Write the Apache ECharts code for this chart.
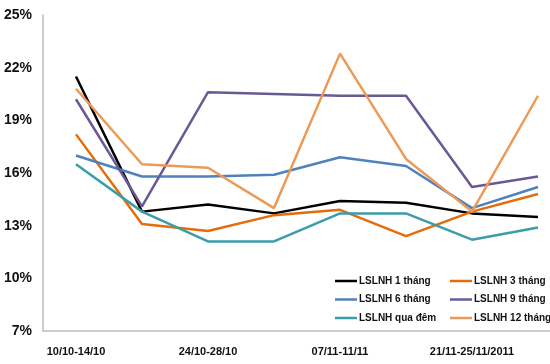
<!DOCTYPE html>
<html><head><meta charset="utf-8">
<script src="https://cdn.jsdelivr.net/npm/echarts@6/dist/echarts.min.js"></script>
<style>html,body{margin:0;padding:0;background:#fff}#c{width:550px;height:364px}</style>
</head><body><div id="c"></div>
<script>
var categories = ["10/10-14/10","17/10-21/10","24/10-28/10","31/10-04/11","07/11-11/11","14/11-18/11","21/11-25/11/2011","28/11-02/12/2011"];
var s1thang  = [21.5, 13.8, 14.2, 13.7, 14.4, 14.3, 13.7, 13.5];
var s3thang  = [18.2, 13.1, 12.7, 13.6, 13.9, 12.4, 13.8, 14.8];
var s6thang  = [17.0, 15.8, 15.8, 15.9, 16.9, 16.4, 14.0, 15.2];
var s9thang  = [20.2, 14.1, 20.6, 20.5, 20.4, 20.4, 15.2, 15.8];
var sQuaDem  = [16.5, 13.8, 12.1, 12.1, 13.7, 13.7, 12.2, 12.9];
var s12thang = [20.8, 16.5, 16.3, 14.0, 22.8, 16.8, 13.8, 20.4];
var yTicks = [7, 10, 13, 16, 19, 22, 25];

var names = ["LSLNH 1 tháng","LSLNH 3 tháng","LSLNH 6 tháng","LSLNH 9 tháng","LSLNH qua đêm","LSLNH 12 tháng"];
var datas = [s1thang, s3thang, s6thang, s9thang, sQuaDem, s12thang];
var colors = ["#000000","#E46C0A","#4F81BD","#6B5897","#3A9DAA","#EC9A55"];

var chart = echarts.init(document.getElementById('c'));
var font = '"Liberation Sans", Arial, sans-serif';
var legendText = {fontFamily: font, fontWeight: 'bold', fontSize: 10, color: '#111', padding: [0,0,0,-3]};
chart.setOption({
  animation: false,
  backgroundColor: '#fff',
  grid: {left: 43, width: 528, top: 15, bottom: 33, containLabel: false, outerBoundsMode: 'none'},
  xAxis: {
    type: 'category', data: categories, boundaryGap: true,
    axisLine: {lineStyle: {color: '#bdbdbd', width: 1.5}},
    axisTick: {show: false},
    axisLabel: {interval: 1, margin: 15, fontFamily: font, fontWeight: 'bold', fontSize: 11, color: '#111'}
  },
  yAxis: {
    type: 'value', min: yTicks[0], max: yTicks[yTicks.length-1], interval: 3,
    axisLine: {show: true, lineStyle: {color: '#bdbdbd', width: 1.5}},
    axisTick: {show: false},
    splitLine: {show: false},
    axisLabel: {margin: 11, formatter: '{value}%', fontFamily: font, fontWeight: 'bold', fontSize: 14, color: '#111'}
  },
  legend: [
    {data: [names[0], names[2], names[4]], orient: 'vertical', left: 330, top: 271, icon: 'rect', itemWidth: 22, itemHeight: 2.5, itemGap: 8.5, textStyle: legendText},
    {data: [names[1], names[3], names[5]], orient: 'vertical', left: 445, top: 271, icon: 'rect', itemWidth: 22, itemHeight: 2.5, itemGap: 8.5, textStyle: legendText}
  ],
  series: names.map(function(n, i){
    return {name: n, type: 'line', data: datas[i], symbol: 'none', showSymbol: false,
      lineStyle: {color: colors[i], width: 2.5}, itemStyle: {color: colors[i]}};
  })
});
</script></body></html>
